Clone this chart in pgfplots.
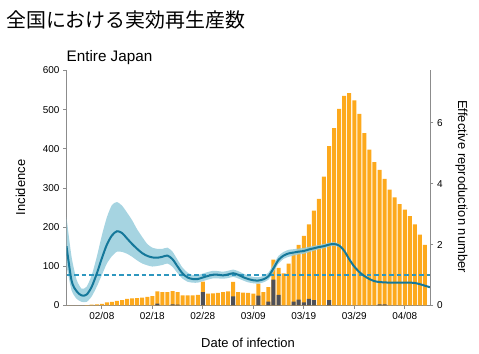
\documentclass[border=0pt]{standalone}
\usepackage{pgfplots}
\pgfplotsset{compat=1.18}
\usepackage{pgfplotstable}
\usepackage{fontspec}
\setmainfont{Liberation Sans}
\newfontfamily\cjk{Noto Sans CJK JP}
\definecolor{barorange}{HTML}{FDA91C}
\definecolor{bardark}{HTML}{4E5058}
\definecolor{rlinecol}{HTML}{15789A}
\definecolor{dashcol}{HTML}{2E97BF}
\definecolor{rbandcol}{HTML}{96CCDC}
\definecolor{axgray}{HTML}{8C8C8C}

\pgfplotstableread{
day total
0 0
1 0
2 0
3 0
4 1
5 2
6 3
7 4
8 8
9 9
10 12
11 14
12 17
13 18
14 19
15 20
16 22
17 24
18 36
19 34
20 34
21 37
22 34
23 26
24 26
25 26
26 27
27 61
28 30
29 31
30 32
31 34
32 36
33 60
34 34
35 33
36 32
37 30
38 56
39 34
40 47
41 117
42 96
43 82
44 107
45 133
46 155
47 178
48 207
49 242
50 272
51 329
52 407
53 453
54 502
55 535
56 542
57 524
58 489
59 440
60 398
61 366
62 346
63 323
64 296
65 276
66 259
67 245
68 228
69 207
70 181
71 155
}\barsdata

\pgfplotstableread{
day dark
18 5
21 3
22 2
27 34
33 23
38 25
40 10
41 66
42 27
45 10
46 15
47 8
48 17
49 14
52 14
62 3
63 3
}\darkdata

\pgfplotstableread{
day r
0 1.95
1 0.82
2 0.47
3 0.33
4 0.36
5 0.62
6 1.05
7 1.55
8 2.0
9 2.3
10 2.44
11 2.38
12 2.2
13 2.02
14 1.86
15 1.72
16 1.63
17 1.58
18 1.57
19 1.6
20 1.64
21 1.52
22 1.28
23 1.05
24 0.92
25 0.87
26 0.87
27 0.92
28 0.97
29 1.01
30 1.01
31 0.99
32 1.02
33 1.06
34 1.01
35 0.93
36 0.87
37 0.83
38 0.82
39 0.86
40 0.96
41 1.22
42 1.5
43 1.64
44 1.71
45 1.74
46 1.77
47 1.79
48 1.84
49 1.88
50 1.92
51 1.95
52 2.0
53 2.02
54 1.97
55 1.8
56 1.52
57 1.28
58 1.1
59 0.97
60 0.87
61 0.8
62 0.77
63 0.76
64 0.75
65 0.75
66 0.75
67 0.75
68 0.75
69 0.74
70 0.7
71 0.65
72 0.6
}\rdata

% credible band: upper bound forward, then lower bound backward
\pgfplotstableread{
day val
0 2.9
1 1.6
2 0.85
3 0.55
4 0.62
5 1.0
6 1.6
7 2.3
8 2.9
9 3.3
10 3.4
11 3.28
12 3.05
13 2.8
14 2.5
15 2.25
16 2.02
17 1.9
18 1.86
19 1.86
20 1.9
21 1.77
22 1.5
23 1.24
24 1.08
25 1.0
26 1.0
27 1.05
28 1.1
29 1.14
30 1.13
31 1.11
32 1.14
33 1.18
34 1.13
35 1.05
36 0.98
37 0.94
38 0.93
39 0.97
40 1.08
41 1.35
42 1.63
43 1.76
44 1.83
45 1.85
46 1.87
47 1.89
48 1.93
49 1.96
50 1.99
51 2.02
52 2.06
53 2.08
54 2.02
55 1.84
56 1.54
57 1.28
56 1.5
55 1.76
54 1.92
53 1.96
52 1.94
51 1.88
50 1.85
49 1.8
48 1.75
47 1.7
46 1.68
45 1.64
44 1.6
43 1.53
42 1.38
41 1.1
40 0.85
39 0.76
38 0.72
37 0.73
36 0.76
35 0.82
34 0.89
33 0.94
32 0.9
31 0.88
30 0.89
29 0.89
28 0.85
27 0.8
26 0.75
25 0.75
24 0.78
23 0.88
22 1.06
21 1.27
20 1.38
19 1.33
18 1.3
17 1.28
16 1.32
15 1.38
14 1.48
13 1.6
12 1.7
11 1.76
10 1.77
9 1.62
8 1.38
7 1.0
6 0.62
5 0.3
4 0.12
3 0.12
2 0.22
1 0.5
0 1.3
}\banddata

\begin{document}
\begin{tikzpicture}
\pgfplotsset{
  common/.style={
    at={(66.5bp,48.5bp)}, anchor=south west,
    scale only axis, width=363.5bp, height=235bp,
    xmin=0, xmax=72,
    axis line style={axgray, line width=0.8bp},
    tick align=outside, major tick length=3.5bp,
    tick style={axgray, line width=0.8bp},
    tick label style={font=\fontsize{10}{12}\selectfont, text=black},
    /pgf/number format/assume math mode=true,
  }
}
\begin{axis}[common,
  ymin=0, ymax=600,
  axis x line*=bottom, axis y line*=left,
  xtick={7,17,27,37,47,57,67},
  xticklabels={02/08,02/18,02/28,03/09,03/19,03/29,04/08},
  ytick={0,100,...,600},
]
\addplot[ybar, bar width=4bp, fill=barorange, draw=none] table[x=day, y=total] {\barsdata};
\addplot[ybar, bar width=4bp, fill=bardark, draw=none] table[x=day, y=dark] {\darkdata};
\end{axis}
\begin{axis}[common,
  ymin=0, ymax=7.72,
  axis x line=none, axis y line*=right,
  ytick={0,2,4,6},
]
\addplot[fill=rbandcol, fill opacity=0.85, draw=none, smooth, tension=0.4] table[x=day, y=val] {\banddata} -- cycle;
\addplot[color=dashcol, line width=1.3bp, dash pattern=on 4.5bp off 3bp] coordinates {(0,1) (72,1)};
\addplot[color=rlinecol, line width=2bp, smooth] table[x=day, y=r] {\rdata};
\end{axis}
\node[anchor=base west, inner sep=0] at (6bp,326bp) {\cjk\fontsize{20}{24}\selectfont 全国における実効再生産数};
\node[anchor=base west, inner sep=0] at (66.5bp,292.5bp) {\fontsize{15.3}{18}\selectfont Entire Japan};
\node[anchor=base, inner sep=0] at (248bp,6.7bp) {\fontsize{13}{15}\selectfont Date of infection};
\node[anchor=base, inner sep=0, rotate=90] at (25bp,166.5bp) {\fontsize{13}{15}\selectfont Incidence};
\node[anchor=base, inner sep=0, rotate=-90] at (458bp,167.5bp) {\fontsize{13}{15}\selectfont Effective reproduction number};
\path (0,0) rectangle (479bp,354bp);
\end{tikzpicture}
\end{document}
